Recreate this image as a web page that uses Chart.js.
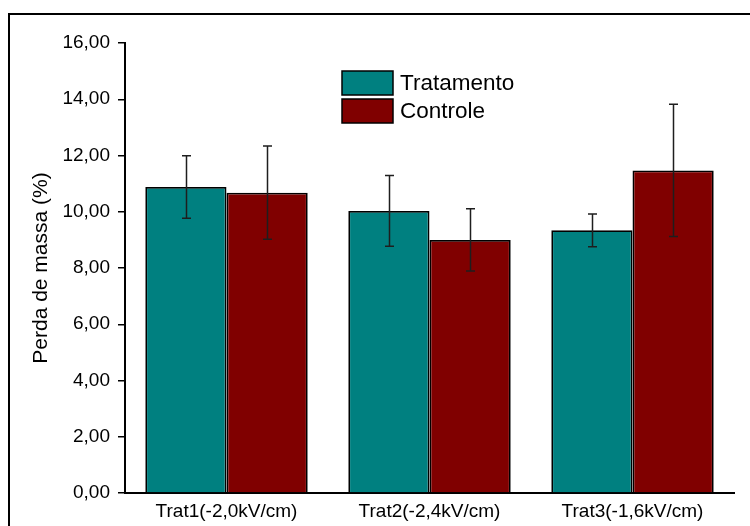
<!DOCTYPE html>
<html>
<head>
<meta charset="utf-8">
<script src="https://cdn.jsdelivr.net/npm/chart.js@4/dist/chart.umd.min.js"></script>
<style>
  html, body { margin: 0; padding: 0; background: #fff; }
  #wrap { width: 750px; height: 526px; }
</style>
</head>
<body>
<div id="wrap"><canvas id="c" width="750" height="526"></canvas></div>
<script>
// Perda de massa (%) por tratamento, média e desvio
const categories = ['Trat1(-2,0kV/cm)', 'Trat2(-2,4kV/cm)', 'Trat3(-1,6kV/cm)'];
const seriesNames = ['Tratamento', 'Controle'];
const tratamento = [10.88, 10.03, 9.34];
const tratamentoErr = [1.11, 1.26, 0.58];
const controle = [10.68, 9.00, 11.47];
const controleErr = [1.66, 1.11, 2.35];
const yTickLabels = ['0,00', '2,00', '4,00', '6,00', '8,00', '10,00', '12,00', '14,00', '16,00'];

const FONT = '"Liberation Sans", Arial, Helvetica, sans-serif';

// white page with an open frame on the left and top
const framePlugin = {
  id: 'frame',
  beforeDraw(chart) {
    const ctx = chart.ctx;
    ctx.save();
    ctx.fillStyle = '#ffffff';
    ctx.fillRect(0, 0, chart.width, chart.height);
    ctx.strokeStyle = '#000';
    ctx.lineWidth = 2;
    ctx.strokeRect(9, 14, chart.width + 20, chart.height + 20);
    ctx.restore();
  }
};

// vertical error bars with caps, placed on each bar
const errorBarPlugin = {
  id: 'errorBars',
  afterDatasetsDraw(chart) {
    const ctx = chart.ctx;
    const yScale = chart.scales.y;
    ctx.save();
    ctx.strokeStyle = '#1e1e1e';
    ctx.lineWidth = 1.5;
    chart.data.datasets.forEach((ds, i) => {
      const meta = chart.getDatasetMeta(i);
      meta.data.forEach((bar, j) => {
        const v = ds.data[j];
        const e = ds.errors[j];
        const x = Math.round(bar.x) + 0.5;
        const yTop = yScale.getPixelForValue(v + e);
        const yBot = yScale.getPixelForValue(v - e);
        const cap = 4.5;
        ctx.beginPath();
        ctx.moveTo(x, yTop); ctx.lineTo(x, yBot);
        ctx.moveTo(x - cap, yTop); ctx.lineTo(x + cap, yTop);
        ctx.moveTo(x - cap, yBot); ctx.lineTo(x + cap, yBot);
        ctx.stroke();
      });
    });
    ctx.restore();
  }
};

// stacked legend inside the plot
const legendPlugin = {
  id: 'boxLegend',
  afterDraw(chart) {
    const ctx = chart.ctx;
    const x0 = 342, y0 = 71, bw = 51, bh = 24, gap = 4;
    ctx.save();
    ctx.font = '22.5px ' + FONT;
    ctx.textBaseline = 'middle';
    chart.data.datasets.forEach((ds, i) => {
      const y = y0 + i * (bh + gap);
      ctx.fillStyle = ds.backgroundColor;
      ctx.fillRect(x0, y, bw, bh);
      ctx.strokeStyle = '#000';
      ctx.lineWidth = 1.5;
      ctx.strokeRect(x0, y, bw, bh);
      ctx.fillStyle = '#000';
      ctx.fillText(ds.label, x0 + bw + 7, y + bh / 2 + 1);
    });
    ctx.restore();
  }
};

new Chart(document.getElementById('c'), {
  type: 'bar',
  data: {
    labels: categories,
    datasets: [
      { label: seriesNames[0], data: tratamento, errors: tratamentoErr,
        backgroundColor: '#008080', borderColor: '#000', borderWidth: 1.8 },
      { label: seriesNames[1], data: controle, errors: controleErr,
        backgroundColor: '#800000', borderColor: '#000', borderWidth: 1.8 }
    ]
  },
  options: {
    responsive: false,
    devicePixelRatio: 1,
    animation: false,
    layout: { padding: { left: 0, top: 43, right: 16, bottom: 0 } },
    datasets: { bar: { categoryPercentage: 0.8, barPercentage: 1.0 } },
    plugins: { legend: { display: false }, tooltip: { enabled: false } },
    scales: {
      x: {
        grid: { display: false, drawTicks: false },
        border: { display: true, color: '#000', width: 2 },
        ticks: { color: '#000', font: { family: FONT, size: 19 }, padding: 7, maxRotation: 0 },
        afterFit(scale) { scale.height = 33; }
      },
      y: {
        min: 0, max: 16,
        grid: { drawOnChartArea: false, drawTicks: true, tickLength: 7, tickColor: '#000', lineWidth: 1.5 },
        border: { display: true, color: '#000', width: 2 },
        ticks: {
          stepSize: 2, color: '#000', padding: 8,
          font: { family: FONT, size: 19 },
          callback: (v, i) => yTickLabels[i]
        },
        title: {
          display: true, text: 'Perda de massa (%)', color: '#000',
          font: { family: FONT, size: 21 }, padding: { top: 29, bottom: 0 }
        },
        afterFit(scale) { scale.width = 125; }
      }
    }
  },
  plugins: [framePlugin, errorBarPlugin, legendPlugin]
});
</script>
</body>
</html>
